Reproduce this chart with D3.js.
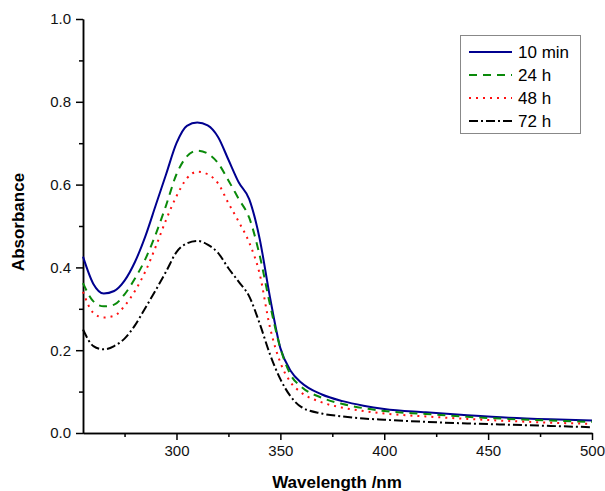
<!DOCTYPE html>
<html><head><meta charset="utf-8">
<script src="https://cdn.jsdelivr.net/npm/d3@7"></script>
<style>html,body{margin:0;padding:0;background:#fff;} svg{display:block;}</style>
</head><body>
<script>
const wavelengths = [255,260,265,270,275,280,285,290,295,300,305,310,315,320,325,330,335,340,345,350,355,360,370,380,390,400,420,440,460,480,500];
const abs10min = [.426,.36,.337,.343,.368,.413,.475,.55,.625,.70,.742,.75,.743,.715,.66,.605,.565,.47,.328,.205,.15,.122,.093,.077,.066,.058,.05,.043,.037,.033,.03];
const abs24h  = [.362,.318,.306,.31,.335,.373,.42,.48,.55,.625,.668,.682,.675,.652,.61,.565,.52,.43,.31,.205,.14,.112,.085,.07,.06,.053,.046,.039,.034,.03,.027];
const abs48h  = [.341,.29,.279,.283,.307,.343,.39,.45,.515,.572,.615,.631,.625,.603,.555,.51,.46,.385,.255,.17,.122,.098,.074,.061,.053,.047,.04,.034,.029,.025,.022];
const abs72h  = [.25,.21,.202,.21,.228,.26,.302,.345,.39,.437,.458,.464,.455,.435,.398,.365,.33,.265,.19,.13,.088,.063,.047,.04,.035,.032,.027,.023,.02,.017,.014];
const seriesNames = ["10 min","24 h","48 h","72 h"];
const seriesValues = [abs10min, abs24h, abs48h, abs72h];
const seriesColors = ["#00008f","#0a8a0a","#ff1010","#000000"];
const seriesDash = [null,"8,6","2,5","9,3,2,3"];
const xTicks = [300,350,400,450,500];
const yTicks = [0,0.2,0.4,0.6,0.8,1.0];

const W=605,H=491;
const svg=d3.select("body").append("svg").attr("width",W).attr("height",H);
const x=d3.scaleLinear().domain([255,500]).range([83,592]);
const y=d3.scaleLinear().domain([0,1]).range([433,19]);
const font="Liberation Sans, Arial, sans-serif";

// minor ticks
const gx=svg.append("g").attr("transform","translate(0,433)");
gx.call(d3.axisBottom(x).tickValues(d3.range(275,501,50)).tickSize(4).tickFormat("").tickSizeOuter(0));
const gx2=svg.append("g").attr("transform","translate(0,433)");
gx2.call(d3.axisBottom(x).tickValues(xTicks).tickSize(7).tickPadding(5).tickFormat(d3.format("d")).tickSizeOuter(0));
const gy=svg.append("g").attr("transform","translate(83,0)");
gy.call(d3.axisLeft(y).tickValues(d3.range(0.1,1,0.2)).tickSize(4).tickFormat("").tickSizeOuter(0));
const gy2=svg.append("g").attr("transform","translate(83,0)");
gy2.call(d3.axisLeft(y).tickValues(yTicks).tickSize(7).tickPadding(5).tickFormat(d3.format(".1f")).tickSizeOuter(0));
svg.selectAll(".domain").attr("stroke","#000").attr("stroke-width",1.5);
svg.selectAll(".tick line").attr("stroke","#000").attr("stroke-width",1.5);
svg.selectAll(".tick text").attr("font-family",font).attr("font-size",15).attr("fill","#111");

svg.append("text").attr("x",337).attr("y",488).attr("text-anchor","middle")
  .attr("font-family",font).attr("font-weight","bold").attr("font-size",17).text("Wavelength /nm");
svg.append("text").attr("transform","translate(24,222) rotate(-90)").attr("text-anchor","middle")
  .attr("font-family",font).attr("font-weight","bold").attr("font-size",17).text("Absorbance");

const line=d3.line().x((d,i)=>x(wavelengths[i])).y(d=>y(d)).curve(d3.curveMonotoneX);
seriesValues.forEach((vals,k)=>{
  svg.append("path").datum(vals).attr("d",line).attr("fill","none")
    .attr("stroke",seriesColors[k]).attr("stroke-width",2)
    .attr("stroke-dasharray",seriesDash[k]);
});

// legend
const lg=svg.append("g");
lg.append("rect").attr("x",460.5).attr("y",35.5).attr("width",120).attr("height",98)
  .attr("fill","#fff").attr("stroke","#888").attr("stroke-width",1);
seriesNames.forEach((n,k)=>{
  const yy=52+k*23;
  lg.append("line").attr("x1",469).attr("x2",512).attr("y1",yy).attr("y2",yy)
    .attr("stroke",seriesColors[k]).attr("stroke-width",2).attr("stroke-dasharray",seriesDash[k]);
  lg.append("text").attr("x",518).attr("y",yy+6).attr("font-family",font).attr("font-size",17)
    .attr("fill","#000").text(n);
});
</script>
</body></html>
